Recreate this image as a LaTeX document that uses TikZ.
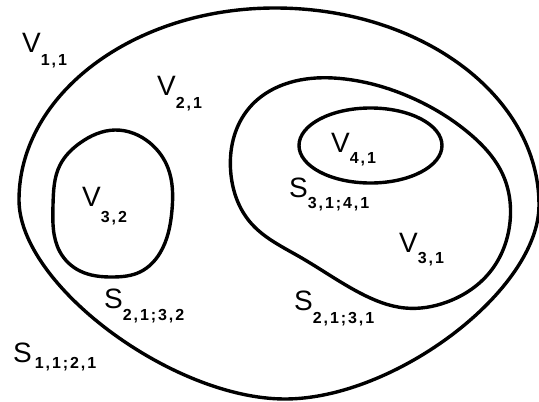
\documentclass[tikz,border=0pt]{standalone}
\usepackage{fontspec}
\usetikzlibrary{hobby}
\setmainfont{Liberation Sans}
\newfontfamily\subfnt[LetterSpace=12]{Liberation Sans Bold}
\newcommand{\lbl}[3]{#1\raisebox{-#3pt}{\fontsize{16}{16}\subfnt #2}}
\begin{document}
\begin{tikzpicture}[x=1pt,y=-1pt,
  region/.style={line width=3.4pt,line join=round},
  lab/.style={anchor=base west,inner sep=0pt,font=\fontsize{28}{28}\selectfont}]
\useasboundingbox (0,0) rectangle (539,402);
% outer region boundary
\draw[region] (19,200) .. controls (19,94) and (134,8) .. (275,8)
  .. controls (421,8) and (539,96) .. (539,205)
  .. controls (539,290) and (395,399) .. (285,399)
  .. controls (173,399) and (19,285) .. cycle;
% left loop V_{3,2}
\draw[region] (53,205) to[closed,curve through={(60,165) (80,143) (115,130) (150,143) (168,168) (172,210) (160,253) (140,272) (113,277) (80,271) (60,252)}] (53,205);
% middle loop V_{3,1}
\draw[region] (231,175) to[closed,curve through={(250,107) (300,80) (345,79) (410,97) (470,134) (503,175) (510,222) (490,272) (447,302) (405,308) (360,293) (300,257) (250,222)}] (231,175);
% inner ellipse V_{4,1}
\draw[region] (370.5,145.5) ellipse [x radius=71.5,y radius=37.5];
% labels
\node[lab] (v11) at (22,52) {\lbl{V}{1,1}{13}};
\node[lab] (v21) at (157,95) {\lbl{V}{2,1}{13}};
\node[lab] (v41) at (331,152) {\lbl{V}{4,1}{11}};
\node[lab] (s3141) at (289,197) {\lbl{S}{3,1;4,1}{11}};
\node[lab] (v32) at (82,206) {\lbl{V}{3,2}{16}};
\node[lab] (s2132) at (104,308) {\lbl{S}{2,1;3,2}{12}};
\node[lab] (s1121) at (13,362) {\lbl{S\hspace{3pt}}{1,1;2,1}{6}};
\node[lab] (v31) at (399,252) {\lbl{V}{3,1}{11}};
\node[lab] (s2131) at (294,310) {\lbl{S}{2,1;3,1}{13}};
\end{tikzpicture}
\end{document}
